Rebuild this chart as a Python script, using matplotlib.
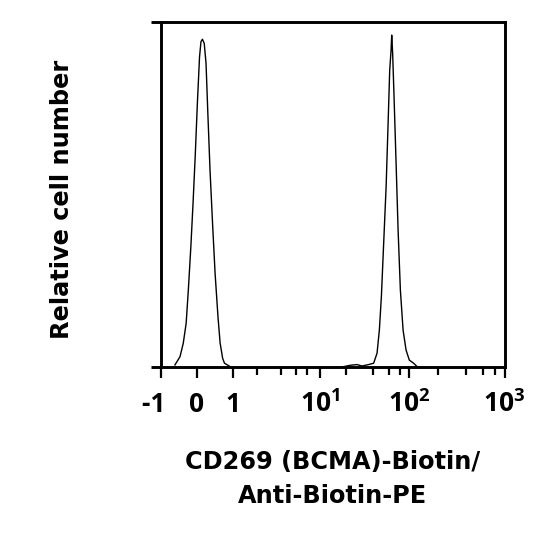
import numpy as np
import matplotlib
matplotlib.use("Agg")
import matplotlib.pyplot as plt
from matplotlib.ticker import FixedLocator, FixedFormatter, NullFormatter

plt.rcParams['font.family'] = ['Open Sans', 'DejaVu Sans']
plt.rcParams['font.weight'] = 'bold'
plt.rcParams['mathtext.fontset'] = 'custom'
plt.rcParams['mathtext.rm'] = 'Open Sans:bold'
plt.rcParams['mathtext.bf'] = 'Open Sans:bold'
plt.rcParams['mathtext.it'] = 'Open Sans:bold'

# ---- data ----
neg_x = [-0.60, -0.46, -0.37, -0.29, -0.23, -0.16, -0.10, -0.04, 0.02, 0.08,
         0.12, 0.16, 0.21, 0.26, 0.31, 0.37, 0.44, 0.51, 0.59, 0.65, 0.72,
         0.77, 0.85, 0.93]
neg_y = [0.6, 3.0, 6.9, 12.7, 22.3, 34.9, 47.4, 61.0, 76.4, 89.9,
         94.3, 95.0, 93.8, 88.0, 73.5, 57.1, 41.7, 27.2, 14.6, 6.9, 2.5,
         1.1, 0.6, 0.1]

pos_x = [17.8, 22.1, 26.2, 29.9, 35.4, 40.3, 44.0, 46.7, 49.2, 52.0, 55.6,
         58.5, 61.0, 63.2, 64.2, 65.8, 68.2, 71.9, 75.7, 80.3, 86.1, 93.0,
         101, 112, 122, 137]
pos_y = [0.0, 0.5, 0.7, 0.3, 0.7, 1.1, 4.0, 10.7, 20.4, 34.9, 52.3,
         70.6, 86.1, 91.9, 96.2, 90.9, 78.3, 59.0, 39.7, 22.3, 10.7, 4.9,
         2.0, 1.1, 0.1, 0.0]

major_ticks = [-1, 0, 1, 10, 100, 1000]
major_labels = ['-1  ', '0', '1', r'$10^{1}$', r'$10^{2}$', r'$10^{3}$']
minor_ticks = [2, 4, 6, 8, 20, 40, 60, 80, 200, 400, 600, 800]

# ---- biexponential-like display scale (linear around 0, log above 1) ----
LIN0, LINSLOPE = 196.5, 36.1
SCALE_LOGS = np.array([0.0, np.log10(2), np.log10(4), np.log10(6), np.log10(8), 1.0, 2.0, 3.0])
SCALE_POS = np.array([LIN0 + LINSLOPE, 256.7, 280.7, 295.7, 306.7, 319.3, 408.5, 504.0])


def fwd(x):
    x = np.asarray(x, dtype=float)
    lin = LIN0 + LINSLOPE * x
    lx = np.log10(np.maximum(x, 1.0))
    lg = np.interp(lx, SCALE_LOGS, SCALE_POS)
    lg = np.where(lx > 3, SCALE_POS[-1] + (lx - 3) * 95.5, lg)
    return np.where(x <= 1, lin, lg)


def inv(p):
    p = np.asarray(p, dtype=float)
    lin = (p - LIN0) / LINSLOPE
    lg = 10 ** np.interp(np.maximum(p, SCALE_POS[0]), SCALE_POS, SCALE_LOGS)
    lg = np.where(p > SCALE_POS[-1], 10 ** (3 + (p - SCALE_POS[-1]) / 95.5), lg)
    return np.where(p <= SCALE_POS[0], lin, lg)


fig = plt.figure(figsize=(5.4, 5.4), dpi=100)
ax = fig.add_axes([160.5 / 540, 1 - 367 / 540, (504.5 - 160.5) / 540, (367 - 22) / 540])

ax.plot(neg_x, neg_y, color='black', lw=1.0)
ax.plot(pos_x, pos_y, color='black', lw=1.0)

ax.set_xscale('function', functions=(fwd, inv))
ax.set_xlim(-1, 1000)
ax.set_ylim(0, 100)

ax.xaxis.set_major_locator(FixedLocator(major_ticks))
ax.xaxis.set_major_formatter(FixedFormatter(major_labels))
ax.xaxis.set_minor_locator(FixedLocator(minor_ticks))
ax.xaxis.set_minor_formatter(NullFormatter())
ax.yaxis.set_major_locator(FixedLocator([0, 100]))
ax.yaxis.set_major_formatter(NullFormatter())
ax.yaxis.set_minor_locator(FixedLocator([]))

for s in ax.spines.values():
    s.set_linewidth(2.1)

ax.tick_params(axis='x', which='major', direction='out', length=8, width=1.6,
               pad=9, labelsize=19)
ax.tick_params(axis='x', which='minor', direction='out', length=5.5, width=1.6)
ax.tick_params(axis='y', which='major', direction='out', length=7.5, width=2.1)

label_font = ['DejaVu Sans']
ax.set_ylabel('Relative cell number', fontsize=17.3, fontweight='bold',
              family=label_font, labelpad=51.5)
ax.yaxis.label.set_y(0.487)
ax.set_xlabel('CD269 (BCMA)-Biotin/\nAnti-Biotin-PE', fontsize=17.3,
              fontweight='bold', family=label_font, labelpad=23, linespacing=1.5)

fig.savefig('out.png', dpi=100)
